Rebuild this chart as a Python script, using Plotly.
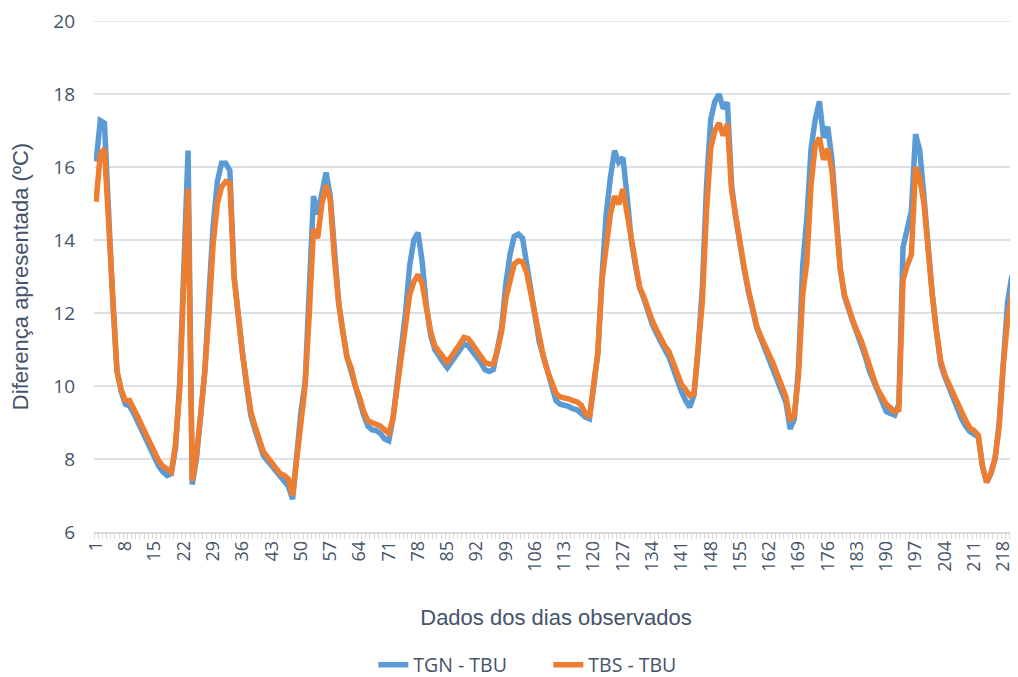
import plotly.graph_objects as go

days = list(range(1, 222))
tick_days = list(range(1, 222, 7))
tick_labels = [str(d) for d in tick_days]
y_ticks = [6, 8, 10, 12, 14, 16, 18, 20]

tgn_tbu = [
    16.15, 17.27, 17.2, 14.6, 12.3, 10.4, 9.85, 9.5, 9.45, 9.25,
    9.0, 8.75, 8.5, 8.3, 8.05, 7.8, 7.65, 7.55, 7.6, 8.3,
    10.1, 13.9, 16.45, 7.3, 8.0, 9.2, 10.4, 12.5, 14.4, 15.6,
    16.1, 16.1, 15.9, 13.0, 11.8, 10.9, 10.0, 9.2, 8.8, 8.4,
    8.1, 7.95, 7.8, 7.65, 7.5, 7.4, 7.25, 6.9, 8.3, 9.3,
    10.1, 12.6, 15.2, 14.7, 15.35, 15.85, 15.2, 13.5, 12.3, 11.5,
    10.8, 10.4, 9.95, 9.6, 9.2, 8.9, 8.8, 8.78, 8.7, 8.55,
    8.5, 9.1, 10.0, 10.9, 12.0, 13.3, 14.0, 14.2, 13.4, 12.2,
    11.4, 11.0, 10.8, 10.65, 10.5, 10.65, 10.85, 11.0, 11.15, 11.1,
    10.95, 10.85, 10.65, 10.45, 10.4, 10.45, 10.97, 11.6, 12.8, 13.6,
    14.1, 14.16, 14.05, 13.3, 12.5, 11.8, 11.2, 10.8, 10.4, 9.95,
    9.6, 9.5, 9.48, 9.44, 9.38, 9.35, 9.25, 9.15, 9.1, 10.1,
    10.9, 13.0, 14.7, 15.7, 16.45, 16.13, 16.26, 15.2, 14.0, 13.3,
    12.7, 12.4, 12.0, 11.7, 11.45, 11.2, 11.0, 10.8, 10.45, 10.1,
    9.85, 9.6, 9.42, 9.75, 11.0, 12.7, 15.5, 17.3, 17.8, 18.0,
    17.6, 17.77, 15.5, 14.6, 13.8, 13.2, 12.6, 12.0, 11.6, 11.3,
    11.0, 10.7, 10.4, 10.1, 9.85, 9.55, 8.82, 9.1, 10.5, 13.3,
    14.6, 16.5, 17.3, 17.8, 16.8, 17.1, 16.2, 14.5, 13.2, 12.45,
    12.05, 11.75, 11.45, 11.15, 10.8, 10.4, 10.1, 9.8, 9.5, 9.3,
    9.25, 9.2, 9.5, 13.8, 14.3, 14.8, 16.9, 16.45, 15.2, 13.6,
    12.5, 11.5, 10.6, 10.25, 9.95, 9.7, 9.4, 9.1, 8.9, 8.75,
    8.68, 8.6, 7.8, 7.36, 7.6, 8.0, 9.0, 10.9, 12.3, 13.0,
    13.25,
]

tbs_tbu = [
    15.05, 16.35, 16.5, 14.5, 12.2, 10.4, 9.9, 9.6, 9.6, 9.4,
    9.15, 8.9, 8.65, 8.45, 8.2, 7.95, 7.8, 7.7, 7.65, 8.4,
    9.9, 12.9, 15.4, 7.4, 8.1, 9.2, 10.4, 12.0, 13.9, 15.0,
    15.45, 15.6, 15.55, 13.0, 11.8, 10.9, 10.1, 9.3, 8.9, 8.5,
    8.2, 8.05, 7.9, 7.75, 7.6, 7.55, 7.45, 7.0, 8.0, 9.1,
    10.0, 12.0, 14.3, 14.05, 14.98, 15.5, 15.1, 13.5, 12.3, 11.5,
    10.8, 10.5, 10.0, 9.7, 9.3, 9.05, 9.0, 8.96, 8.9, 8.8,
    8.7, 9.1, 10.0, 10.8, 11.7, 12.5, 12.85, 13.05, 12.8, 12.1,
    11.5, 11.1, 10.97, 10.8, 10.65, 10.8, 11.0, 11.15, 11.33, 11.3,
    11.15, 11.0, 10.8, 10.65, 10.6, 10.6, 10.97, 11.5, 12.4, 12.9,
    13.34, 13.43, 13.4, 13.1, 12.5, 11.8, 11.24, 10.8, 10.4, 10.05,
    9.8, 9.7, 9.68, 9.65, 9.6, 9.57, 9.48, 9.25, 9.14, 10.1,
    10.9, 12.9, 13.8, 14.7, 15.2, 14.98, 15.4, 14.7, 14.0, 13.3,
    12.7, 12.45, 12.1, 11.8, 11.55, 11.3, 11.1, 10.95, 10.62, 10.3,
    10.05, 9.9, 9.74, 9.78, 11.0, 12.3, 14.8, 16.5, 17.0, 17.2,
    16.86, 17.18, 15.35, 14.6, 13.8, 13.25, 12.65, 12.1, 11.65, 11.35,
    11.1, 10.9, 10.6, 10.3, 10.0, 9.7, 9.05, 9.2, 10.3, 12.5,
    13.4, 15.5, 16.6, 16.8, 16.2, 16.5, 15.9, 14.5, 13.2, 12.5,
    12.1, 11.8, 11.5, 11.25, 10.9, 10.5, 10.2, 9.9, 9.7, 9.5,
    9.4, 9.3, 9.35, 12.9, 13.3, 13.6, 16.0, 15.7, 15.0, 13.6,
    12.5, 11.5, 10.7, 10.3, 10.05, 9.8, 9.55, 9.25, 9.05, 8.85,
    8.78, 8.65, 7.8, 7.36, 7.6, 8.0, 8.9, 10.6, 11.8, 12.5,
    12.9,
]

text_color = "#44546A"
grid_color = "#DDE1E7"
tick_family = "Open Sans, Noto Sans, sans-serif"
title_family = "Liberation Sans, Arial, sans-serif"

fig = go.Figure()
fig.add_trace(go.Scatter(
    x=days, y=tgn_tbu, mode="lines", name="TGN - TBU",
    line=dict(color="#5B9BD5", width=5.5),
))
fig.add_trace(go.Scatter(
    x=days, y=tbs_tbu, mode="lines", name="TBS - TBU",
    line=dict(color="#ED7D31", width=5.5),
))

# top gridline (plotly suppresses the one lying on the plot edge)
fig.add_shape(type="line", xref="paper", yref="y", x0=0, x1=1,
              y0=y_ticks[-1], y1=y_ticks[-1], layer="below",
              line=dict(color=grid_color, width=1.5))

fig.update_layout(
    width=1010, height=669,
    margin=dict(l=86, r=0, t=11, b=145),
    paper_bgcolor="white", plot_bgcolor="white",
    font=dict(family=tick_family, color=text_color, size=18),
    showlegend=True,
    legend=dict(
        orientation="h", xref="container", yref="container",
        x=0.535, xanchor="center", y=0.018, yanchor="middle",
        font=dict(size=19.5, color=text_color, family=tick_family),
        entrywidth=130, entrywidthmode="pixels",
    ),
)

fig.update_xaxes(
    range=[0.5, 221.5],
    tickmode="array", tickvals=tick_days, ticktext=tick_labels,
    tickangle=-90, ticks="", showgrid=False,
    showline=True, linecolor="#D9D9D9", linewidth=1.5,
    tickfont=dict(size=18, color=text_color, family=tick_family),
    minor=dict(ticks="outside", tickmode="linear", tick0=0.5, dtick=1,
               ticklen=5, tickcolor="#D9D9D9", showgrid=False),
    title=dict(text="Dados dos dias observados", standoff=39,
               font=dict(size=22, color=text_color, family=title_family)),
    zeroline=False,
)

fig.update_yaxes(
    range=[6, 20], tickmode="array", tickvals=y_ticks,
    showgrid=True, gridcolor=grid_color, gridwidth=1.5,
    zeroline=False, showline=False, ticks="",
    ticklabelstandoff=18, ticklabeloverflow="allow",
    tickfont=dict(size=19, color=text_color, family=tick_family),
    title=dict(text="Diferença apresentada (ºC)", standoff=19,
               font=dict(size=22, color=text_color, family=title_family)),
)

fig.write_html("out.html")
